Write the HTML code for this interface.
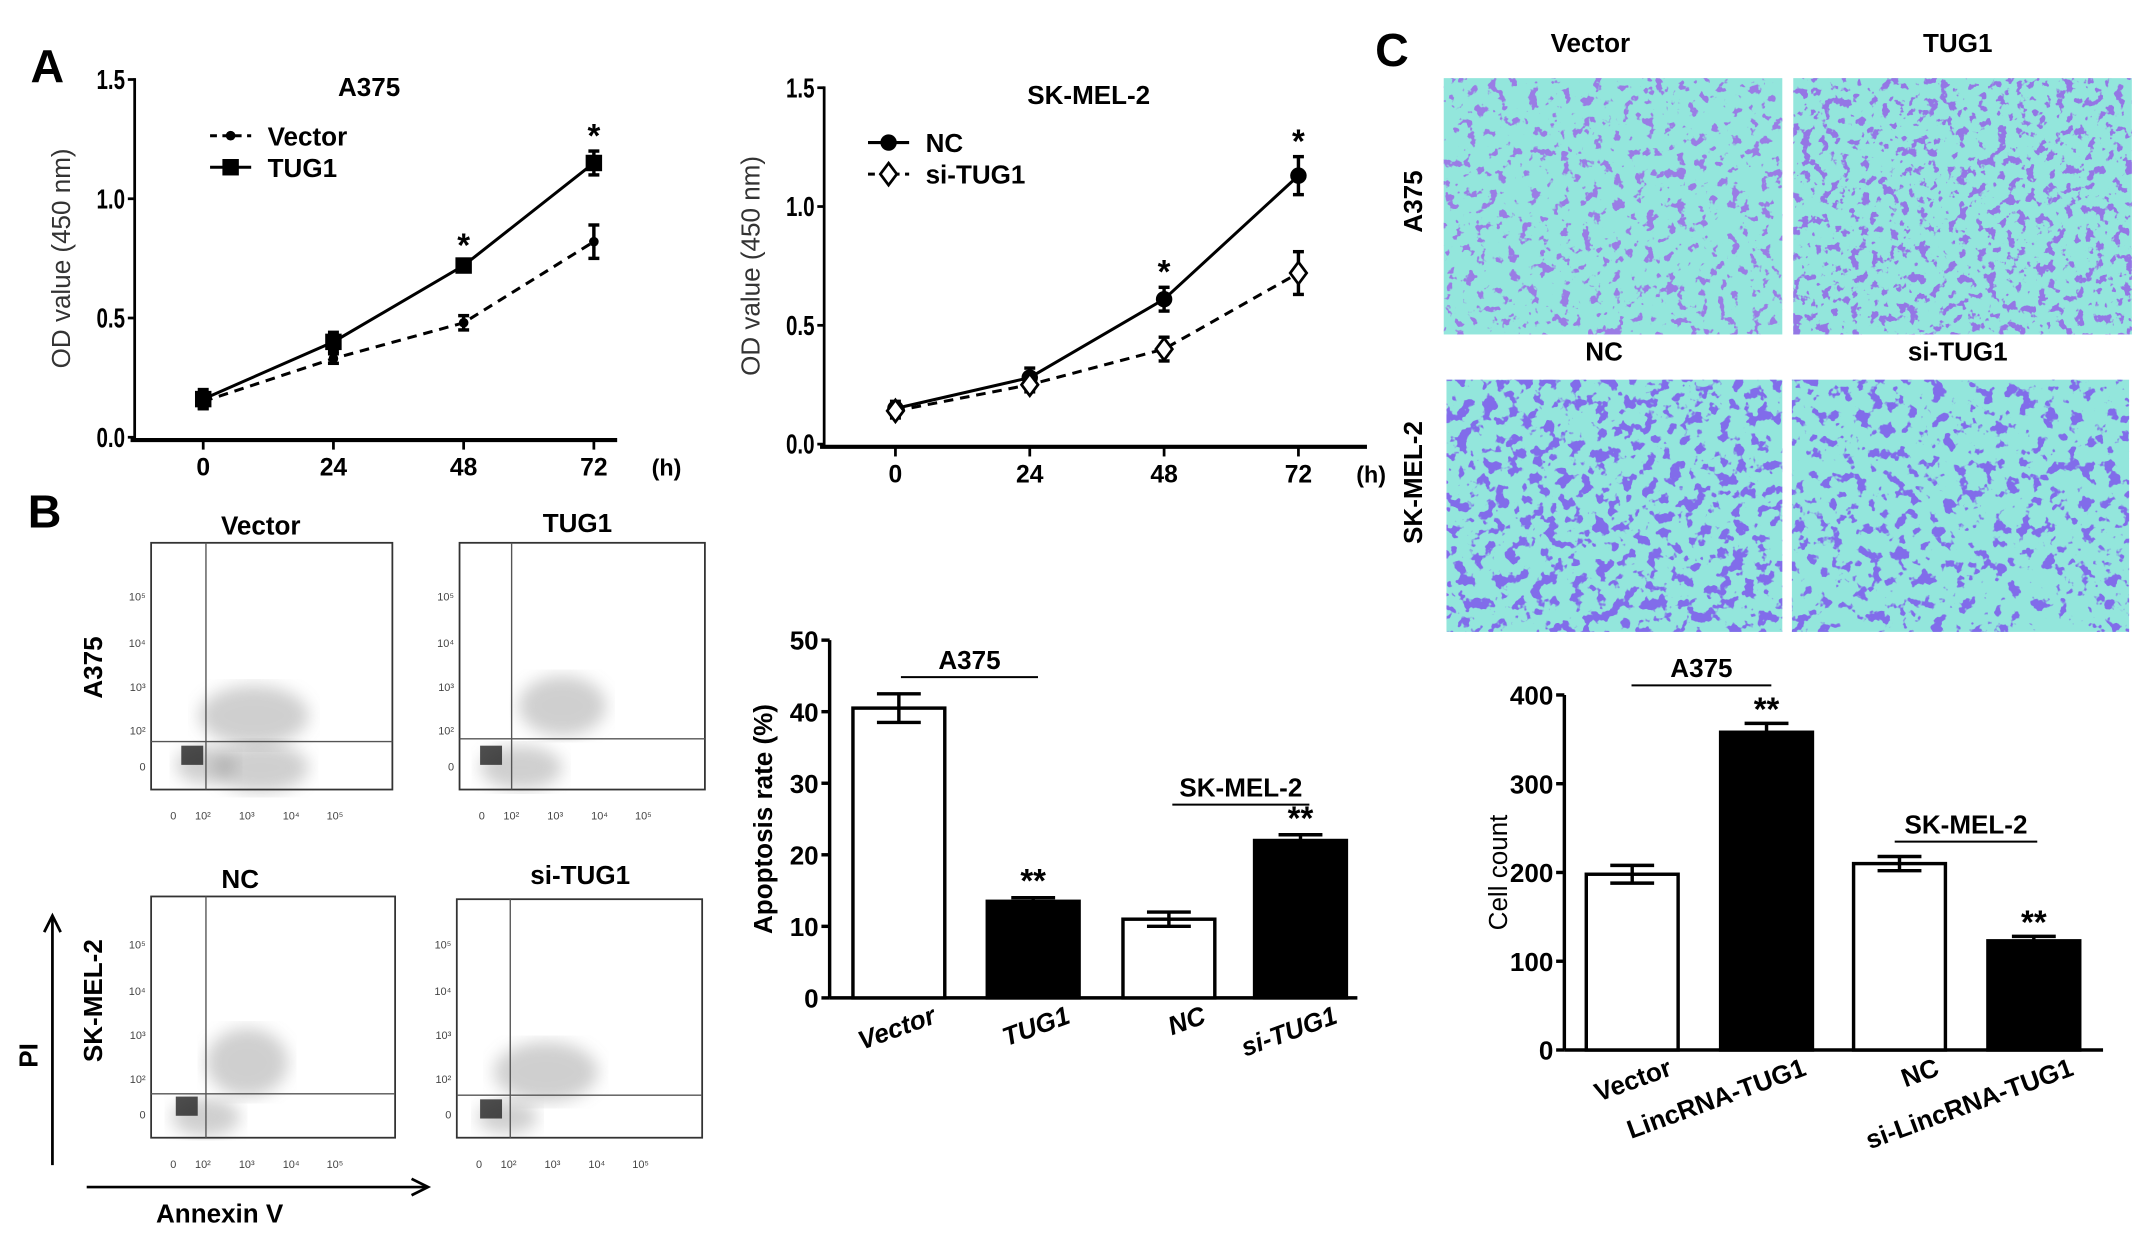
<!DOCTYPE html>
<html><head><meta charset="utf-8"><style>
html,body{margin:0;padding:0;background:#fff;}
svg{display:block;font-family:"Liberation Sans",Arial,sans-serif;}
</style></head><body>
<svg id="fig" width="2150" height="1246" viewBox="0 0 1568 909" xmlns="http://www.w3.org/2000/svg">
<defs>
<filter id="cellsA" x="0" y="0" width="1" height="1"><feTurbulence type="fractalNoise" baseFrequency="0.13" numOctaves="3" seed="4"/><feColorMatrix type="matrix" values="0 0 0 0 0.32 0 0 0 0 0.2 0 0 0 0 0.78 16 0 0 0 -9.6"/><feComposite in2="SourceGraphic" operator="in"/></filter>
<filter id="cellsB" x="0" y="0" width="1" height="1"><feTurbulence type="fractalNoise" baseFrequency="0.14" numOctaves="3" seed="9"/><feColorMatrix type="matrix" values="0 0 0 0 0.30 0 0 0 0 0.18 0 0 0 0 0.78 16 0 0 0 -9.2"/><feComposite in2="SourceGraphic" operator="in"/></filter>
<filter id="cellsC" x="0" y="0" width="1" height="1"><feTurbulence type="fractalNoise" baseFrequency="0.11" numOctaves="3" seed="2"/><feColorMatrix type="matrix" values="0 0 0 0 0.22 0 0 0 0 0.15 0 0 0 0 0.82 16 0 0 0 -8.7"/><feComposite in2="SourceGraphic" operator="in"/></filter>
<filter id="cellsD" x="0" y="0" width="1" height="1"><feTurbulence type="fractalNoise" baseFrequency="0.11" numOctaves="3" seed="7"/><feColorMatrix type="matrix" values="0 0 0 0 0.22 0 0 0 0 0.15 0 0 0 0 0.82 16 0 0 0 -9.2"/><feComposite in2="SourceGraphic" operator="in"/></filter>
<filter id="blur3"><feGaussianBlur stdDeviation="6"/></filter>
</defs>
<g id="root"></g>
</svg>
<script>
// ---- Panel A data ----
const timeLabels = ['0','24','48','72'];
const a375Vector = [0.15,0.33,0.48,0.82];
const a375VectorErr = [0.03,0.02,0.03,0.07];
const a375Tug1 = [0.16,0.40,0.72,1.15];
const a375Tug1Err = [0.04,0.04,0.02,0.05];
const skNC = [0.15,0.28,0.61,1.13];
const skNCErr = [0.03,0.04,0.05,0.08];
const skSi = [0.14,0.25,0.40,0.72];
const skSiErr = [0.03,0.03,0.05,0.09];
const odTicks = ['0.0','0.5','1.0','1.5'];
const odTickVals = [0,0.5,1.0,1.5];
// ---- Panel B bar data ----
const apopCats = ['Vector','TUG1','NC','si-TUG1'];
const apopVals = [40.5,13.5,11,22];
const apopErr = [2,0.5,1,0.8];
const apopTicks = [0,10,20,30,40,50];
// ---- Panel C bar data ----
const cellCats = ['Vector','LincRNA-TUG1','NC','si-LincRNA-TUG1'];
const cellVals = [198,358,210,123];
const cellErr = [10,10,8,5];
const cellTicks = [0,100,200,300,400];

const NS='http://www.w3.org/2000/svg';
const root=document.getElementById('root');
function el(tag,attrs,parent,text){const e=document.createElementNS(NS,tag);for(const k in attrs)e.setAttribute(k,attrs[k]);if(text!==undefined)e.textContent=text;(parent||root).appendChild(e);return e;}

[['A',22,60],['B',20,385],['C',1003,48]].forEach(p=>{
  const t=el('text',{x:p[1],y:p[2],'font-size':34,'font-weight':'bold'},root,p[0]);
  
  
});

function lineChart(o){
  const g=el('g',{});
  
  
  const ys=v=>o.y0-(o.y0-o.y15)*v/1.5;
  const xs=i=>o.x0+i*o.dx;
  el('line',{x1:o.ax,y1:o.y15-1,x2:o.ax,y2:o.y0+2,stroke:'#000','stroke-width':2},g);
  el('line',{x1:o.ax-3,y1:o.y0+2,x2:o.xend,y2:o.y0+2,stroke:'#000','stroke-width':3},g);
  odTickVals.forEach((v,i)=>{
    el('line',{x1:o.ax-5,y1:ys(v),x2:o.ax,y2:ys(v),stroke:'#000','stroke-width':2},g);
    const t=el('text',{x:o.ax-7,y:ys(v)+7,'font-size':20,'text-anchor':'end','font-weight':'bold',transform:`translate(${o.ax-7},${ys(v)}) scale(0.75,1) translate(${-(o.ax-7)},${-ys(v)})`},g,odTicks[i]);
    
    
  });
  timeLabels.forEach((l,i)=>{
    el('line',{x1:xs(i),y1:o.y0+2,x2:xs(i),y2:o.y0+9,stroke:'#000','stroke-width':2},g);
    const t=el('text',{x:xs(i),y:o.y0+28,'font-size':18,'text-anchor':'middle','font-weight':'bold'},g,l);
    
    
  });
  el('text',{x:xs(3)+53,y:o.y0+28,'font-size':17,'text-anchor':'middle','font-weight':'bold'},g,'(h)');
  const yl=el('text',{x:0,y:0,'font-size':19,'text-anchor':'middle','fill':'#333',transform:`translate(${o.ax-47},${(o.y0+o.y15)/2}) rotate(-90)`},g,'OD value (450 nm)');
  
  
  const tt=el('text',{x:(o.ax+o.xend)/2-5,y:o.y15+12,'font-size':19,'text-anchor':'middle','font-weight':'bold'},g,o.title);
  
  
  o.series.forEach((s,si)=>{
    const pts=s.v.map((v,i)=>xs(i)+','+ys(v)).join(' ');
    const pl=el('polyline',{points:pts,fill:'none',stroke:'#000','stroke-width':2.2,'stroke-dasharray':s.dash?'7,5':'none'},g);
    
    
    s.v.forEach((v,i)=>{
      const x=xs(i),y=ys(v),e=s.e[i];
      el('line',{x1:x,y1:ys(v+e),x2:x,y2:ys(v-e),stroke:'#000','stroke-width':2.5},g);
      el('line',{x1:x-4,y1:ys(v+e),x2:x+4,y2:ys(v+e),stroke:'#000','stroke-width':2.5},g);
      el('line',{x1:x-4,y1:ys(v-e),x2:x+4,y2:ys(v-e),stroke:'#000','stroke-width':2.5},g);
      marker(g,s.m,x,y,'point-'+s.key);
    });
    const ly=o.legY+si*23;
    el('line',{x1:o.legX,y1:ly,x2:o.legX+30,y2:ly,stroke:'#000','stroke-width':2.2,'stroke-dasharray':s.dash?'5,4':'none'},g);
    marker(g,s.m,o.legX+15,ly,'legend-marker-'+s.key);
    const lt=el('text',{x:o.legX+42,y:ly+7,'font-size':19,'font-weight':'bold'},g,s.label);
    
    
  });
  o.stars.forEach(i=>{
    const top=Math.max(...o.series.map(s=>s.v[i]+s.e[i]));
    const st=el('text',{x:xs(i),y:ys(top)-3,'font-size':24,'text-anchor':'middle','font-weight':'bold'},g,'*');
    
    
  });
}
function marker(g,m,x,y,name){
  let e;
  if(m==='dot')e=el('circle',{cx:x,cy:y,r:3.5,fill:'#000'},g);
  else if(m==='circle')e=el('circle',{cx:x,cy:y,r:6,fill:'#000'},g);
  else if(m==='square')e=el('rect',{x:x-6,y:y-6,width:12,height:12,fill:'#000'},g);
  else e=el('polygon',{points:`${x},${y-8} ${x+6},${y} ${x},${y+8} ${x-6},${y}`,fill:'#fff',stroke:'#000','stroke-width':2},g);
  
  
}
lineChart({name:'a375-growth-chart',title:'A375',ax:98,x0:148,dx:95,y0:319,y15:58,xend:450,legX:153,legY:99,
  series:[{key:'vector',label:'Vector',v:a375Vector,e:a375VectorErr,dash:true,m:'dot'},{key:'tug1',label:'TUG1',v:a375Tug1,e:a375Tug1Err,dash:false,m:'square'}],stars:[2,3]});
lineChart({name:'skmel2-growth-chart',title:'SK-MEL-2',ax:601,x0:653,dx:98,y0:324,y15:64,xend:997,legX:633,legY:104,
  series:[{key:'nc',label:'NC',v:skNC,e:skNCErr,dash:false,m:'circle'},{key:'si-tug1',label:'si-TUG1',v:skSi,e:skSiErr,dash:true,m:'diamond'}],stars:[2,3]});

// ---- Flow cytometry plots ----
const flows=[
 {name:'flow-vector',title:'Vector',x:110,y:396,w:176,h:180,gx:150,gy:541,tx:190,ty:390,cloud:[[185,522,40,22],[150,558,22,14],[190,560,35,18]],dark:[140,552]},
 {name:'flow-tug1',title:'TUG1',x:335,y:396,w:179,h:180,gx:373,gy:539,tx:421,ty:388,cloud:[[410,515,32,22],[380,560,30,16]],dark:[358,552]},
 {name:'flow-nc',title:'NC',x:110,y:654,w:178,h:176,gx:150,gy:798,tx:175,ty:648,cloud:[[180,775,30,25],[150,815,25,14]],dark:[136,808]},
 {name:'flow-si-tug1',title:'si-TUG1',x:333,y:656,w:179,h:174,gx:372,gy:799,tx:423,ty:645,cloud:[[398,782,38,22],[370,815,22,12]],dark:[358,810]}
];
flows.forEach(f=>{
  const g=el('g',{});
  
  
  f.cloud.forEach(c=>el('ellipse',{cx:c[0],cy:c[1],rx:c[2],ry:c[3],fill:'#888',opacity:0.4,filter:'url(#blur3)'},g));
  el('rect',{x:f.dark[0]-8,y:f.dark[1]-8,width:16,height:14,fill:'#222',opacity:0.8},g);
  el('rect',{x:f.x,y:f.y,width:f.w,height:f.h,fill:'none',stroke:'#333','stroke-width':1.3},g);
  el('line',{x1:f.gx,y1:f.y,x2:f.gx,y2:f.y+f.h,stroke:'#555','stroke-width':1},g);
  el('line',{x1:f.x,y1:f.gy,x2:f.x+f.w,y2:f.gy,stroke:'#555','stroke-width':1},g);
  const t=el('text',{x:f.tx,y:f.ty,'font-size':19,'text-anchor':'middle','font-weight':'bold'},g,f.title);
  
  
  ['0','10²','10³','10⁴','10⁵'].forEach((l,i)=>{
    el('text',{x:f.x+14+[0,18,50,82,114][i],y:f.y+f.h+22,'font-size':8,'fill':'#444'},g,l);
    el('text',{x:f.x-4,y:f.y+f.h-[14,40,72,104,138][i],'font-size':8,'fill':'#444','text-anchor':'end'},g,l);
  });
});
[['A375',74,487],['SK-MEL-2',74,730]].forEach(r=>{
  const t=el('text',{x:0,y:0,'font-size':19,'font-weight':'bold','text-anchor':'middle',transform:`translate(${r[1]},${r[2]}) rotate(-90)`},root,r[0]);
  
  
});
{
  const t=el('text',{x:0,y:0,'font-size':19,'font-weight':'bold','text-anchor':'middle',transform:'translate(27,770) rotate(-90)'},root,'PI');
  
  el('line',{x1:38,y1:850,x2:38,y2:670,stroke:'#000','stroke-width':2});
  el('polyline',{points:'32,680 38,668 44,680',fill:'none',stroke:'#000','stroke-width':2});
  el('line',{x1:63,y1:866,x2:310,y2:866,stroke:'#000','stroke-width':2});
  el('polyline',{points:'300,860 312,866 300,872',fill:'none',stroke:'#000','stroke-width':2});
  const a=el('text',{x:160,y:892,'font-size':19,'font-weight':'bold','text-anchor':'middle'},root,'Annexin V');
  
}

function barChart(o){
  const g=el('g',{});
  
  
  const max=o.ticks[o.ticks.length-1];
  const ys=v=>o.y0-(o.y0-o.yTop)*v/max;
  el('line',{x1:o.ax,y1:o.yTop,x2:o.ax,y2:o.y0,stroke:'#000','stroke-width':2.5},g);
  el('line',{x1:o.ax,y1:o.y0,x2:o.xend,y2:o.y0,stroke:'#000','stroke-width':2.5},g);
  o.ticks.forEach(v=>{
    el('line',{x1:o.ax-6,y1:ys(v),x2:o.ax,y2:ys(v),stroke:'#000','stroke-width':2.5},g);
    const t=el('text',{x:o.ax-8,y:ys(v)+7,'font-size':19,'text-anchor':'end','font-weight':'bold'},g,String(v));
    
  });
  const yl=el('text',{x:0,y:0,'font-size':19,'text-anchor':'middle','font-weight':o.ylBold?'bold':'normal',transform:`translate(${o.ax-42},${(o.y0+o.yTop)/2}) rotate(-90)`},g,o.ylabel);
  
  o.vals.forEach((v,i)=>{
    const x=o.barX[i],w=o.barW,fill=i%2?'#000':'#fff';
    const r=el('rect',{x:x,y:ys(v),width:w,height:o.y0-ys(v),fill:fill,stroke:'#000','stroke-width':2.5},g);
    
    const cx=x+w/2,e=o.err[i];
    el('line',{x1:cx,y1:ys(v+e),x2:cx,y2:ys(v-e),stroke:'#000','stroke-width':2.5},g);
    el('line',{x1:cx-16,y1:ys(v+e),x2:cx+16,y2:ys(v+e),stroke:'#000','stroke-width':2.5},g);
    el('line',{x1:cx-16,y1:ys(v-e),x2:cx+16,y2:ys(v-e),stroke:i%2?'#000':'#000','stroke-width':2.5},g);
    if(i%2){
      const s=el('text',{x:cx,y:ys(v+e)+o.starOff,'font-size':24,'text-anchor':'middle','font-weight':'bold'},g,'**');
      
    }
    const lx=cx+o.labDx,ly=o.y0+o.labDy[i];
    const t=el('text',{x:0,y:0,'font-size':19,'font-weight':'bold','font-style':o.italic?'italic':'normal','text-anchor':'end',transform:`translate(${lx},${ly}) rotate(-20)`},g,o.cats[i]);
    
  });
  o.groups.forEach(gr=>{
    el('line',{x1:gr[1],y1:gr[2],x2:gr[3],y2:gr[2],stroke:'#000','stroke-width':1.5},g);
    const t=el('text',{x:(gr[1]+gr[3])/2,y:gr[2]-6,'font-size':19,'text-anchor':'middle','font-weight':'bold'},g,gr[0]);
    
  });
}
barChart({name:'apoptosis-bar-chart',cats:apopCats,vals:apopVals,err:apopErr,ticks:apopTicks,ax:605,yTop:467,y0:728,xend:990,
  barX:[622,720,819,915],barW:67,ylabel:'Apoptosis rate (%)',ylBold:true,italic:true,starOff:-4,labDx:28,labDy:[18,18,18,18],
  groups:[['A375',657,494,757],['SK-MEL-2',855,587,955]]});
barChart({name:'cell-count-bar-chart',cats:cellCats,vals:cellVals,err:cellErr,ticks:cellTicks,ax:1141,yTop:507,y0:766,xend:1534,
  barX:[1157,1255,1352,1450],barW:67,ylabel:'Cell count',ylBold:false,italic:false,starOff:-2,labDx:30,labDy:[18,18,18,18],
  groups:[['A375',1190,500,1292],['SK-MEL-2',1382,614,1486]]});

const imgs=[
 ['transwell-a375-vector',1053,57,247,187,'cellsA'],['transwell-a375-tug1',1308,57,247,187,'cellsB'],
 ['transwell-skmel2-nc',1055,277,245,184,'cellsC'],['transwell-skmel2-si-tug1',1307,277,246,184,'cellsD']];
imgs.forEach(m=>{
  const g=el('g',{});
  
  el('rect',{x:m[1],y:m[2],width:m[3],height:m[4],fill:'#93e6dc'},g);
  el('rect',{x:m[1],y:m[2],width:m[3],height:m[4],fill:'#4b35c0',filter:'url(#'+m[5]+')'},g);
});
[['Vector',1160,38],['TUG1',1428,38],['NC',1170,263],['si-TUG1',1428,263]].forEach(t0=>{
  const t=el('text',{x:t0[1],y:t0[2],'font-size':19,'font-weight':'bold','text-anchor':'middle'},root,t0[0]);
  
});
[['A375',1037,147],['SK-MEL-2',1037,352]].forEach(r=>{
  const t=el('text',{x:0,y:0,'font-size':19,'font-weight':'bold','text-anchor':'middle',transform:`translate(${r[1]},${r[2]}) rotate(-90)`},root,r[0]);
  
});
</script>
</body></html>
